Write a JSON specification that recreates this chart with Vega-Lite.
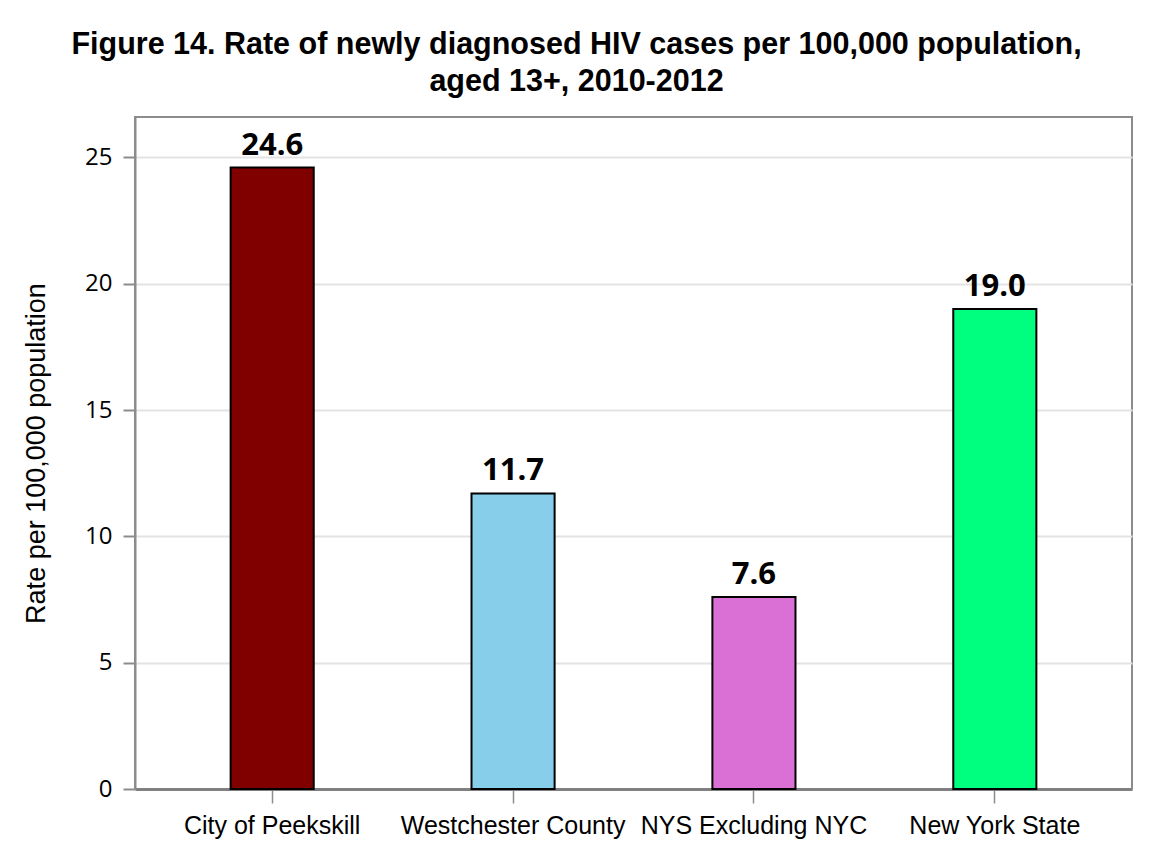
{
  "$schema": "https://vega.github.io/schema/vega-lite/v6.json",
  "autosize": "none",
  "width": 997,
  "height": 672,
  "padding": {"left": 135, "top": 117, "right": 19, "bottom": 78},
  "background": "white",
  "title": {
    "text": ["Figure 14. Rate of newly diagnosed HIV cases per 100,000 population,", "aged 13+, 2010-2012"],
    "font": "Liberation Sans",
    "fontSize": 30.5,
    "fontWeight": "bold",
    "color": "black",
    "anchor": "middle",
    "dx": -57,
    "offset": 20,
    "lineHeight": 37
  },
  "config": {
    "view": {"stroke": "#8c8c8c", "strokeWidth": 2},
    "axis": {"labelColor": "black", "titleColor": "black"}
  },
  "data": {
    "values": [
      {"area": "City of Peekskill", "rate": 24.6, "color": "#800000"},
      {"area": "Westchester County", "rate": 11.7, "color": "#87CEEB"},
      {"area": "NYS Excluding NYC", "rate": 7.6, "color": "#DA70D6"},
      {"area": "New York State", "rate": 19.0, "color": "#00FF7F"}
    ]
  },
  "encoding": {
    "x": {
      "field": "area",
      "type": "nominal",
      "sort": null,
      "scale": {"paddingInner": 0.655, "paddingOuter": 0.397},
      "axis": {
        "title": null,
        "labelAngle": 0,
        "labelFont": "Liberation Sans",
        "labelFontSize": 25,
        "labelPadding": 10,
        "labelLimit": 0,
        "labelOverlap": false,
        "tickColor": "#8c8c8c",
        "tickSize": 14,
        "tickWidth": 1.5,
        "domainColor": "#808080",
        "domainWidth": 3,
        "grid": false
      }
    },
    "y": {
      "field": "rate",
      "type": "quantitative",
      "scale": {"domain": [0, 26.6], "nice": false},
      "axis": {
        "title": "Rate per 100,000 population",
        "titleFont": "Liberation Sans",
        "titleFontSize": 27,
        "titleFontWeight": "normal",
        "titlePadding": 34,
        "values": [0, 5, 10, 15, 20, 25],
        "labelFont": "Open Sans",
        "labelFontSize": 24,
        "labelPadding": 11,
        "tickColor": "#8c8c8c",
        "tickSize": 12,
        "tickWidth": 2,
        "domainColor": "#8c8c8c",
        "domainWidth": 2,
        "gridColor": "#e3e3e3",
        "gridWidth": 2
      }
    }
  },
  "layer": [
    {
      "mark": {"type": "bar", "stroke": "black", "strokeWidth": 2},
      "encoding": {
        "fill": {"field": "color", "type": "nominal", "scale": null}
      }
    },
    {
      "mark": {
        "type": "text",
        "baseline": "alphabetic",
        "dy": -13,
        "font": "Open Sans",
        "fontSize": 31,
        "fontWeight": "bold",
        "color": "black"
      },
      "encoding": {
        "text": {"field": "rate", "type": "quantitative", "format": ".1f"}
      }
    }
  ]
}
